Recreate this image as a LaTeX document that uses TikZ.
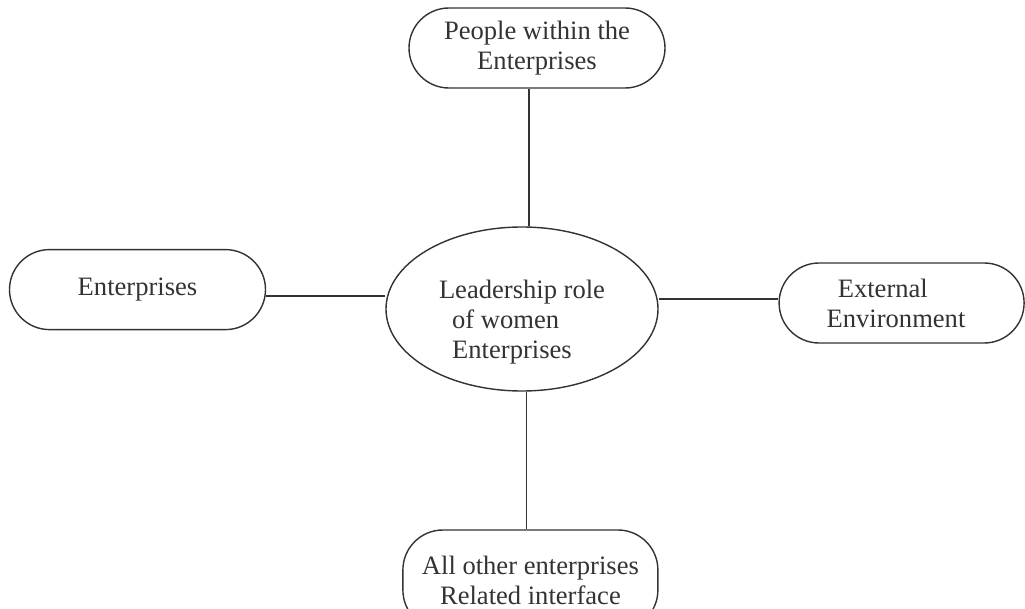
\documentclass[tikz,border=0pt]{standalone}
\usepackage{fontspec}
\setmainfont{Liberation Serif}
\usetikzlibrary{shapes.geometric, positioning}
\definecolor{CLine}{HTML}{333333}

\tikzset{
    pill/.style={draw=CLine, line width=1pt, rounded corners=1cm, minimum width=6.4cm, minimum height=2cm, align=center, text=CLine, font=\fontsize{18.9}{21.3}\selectfont},
    hub/.style={draw=CLine, line width=1pt, ellipse, inner sep=0pt, minimum width=6.8cm, minimum height=4.1cm, align=left, text=CLine, font=\fontsize{18.9}{21.3}\selectfont},
    link/.style={draw=CLine, line width=1pt}
}

\begin{document}
\begin{tikzpicture}
    \useasboundingbox (0,0) rectangle (25.625,15.2);
    \clip (0,0) rectangle (25.625,15.2);

    % --- centre ---
    \node[hub] (ctr) at (13.05, 7.475) {\rule{0pt}{1.1cm}Leadership role\\\hspace*{0.33cm}of women\\\hspace*{0.33cm}Enterprises};

    % --- around it ---
    \node[pill] (top) at (13.425, 14.0) {People within the\\Enterprises};
    \node[pill] (lft) at (3.4375, 7.96) {Enterprises};
    \node[pill, minimum width=6.125cm, align=left] (rgt) at (22.54, 7.625) {\hspace*{0.28cm}External\\Environment\hspace*{0.28cm}};
    \node[pill, minimum width=6.375cm, minimum height=2.5cm] (bot) at (13.26, 0.7) {All other enterprises\\Related interface};

    % --- links ---
    \draw[link] ([xshift=-0.2cm]top.south) -- ([xshift=-0.2cm]top.south |- ctr.north);
    \draw[link] ([xshift=-0.1cm]bot.north) -- ([xshift=-0.1cm]bot.north |- ctr.south);
    \draw[link] ([yshift=-0.16cm]lft.east) -- ([yshift=-0.16cm]lft.east -| ctr.west);
    \draw[link] ([yshift=0.1cm]rgt.west) -- ([yshift=0.1cm]rgt.west -| ctr.east);
\end{tikzpicture}
\end{document}
